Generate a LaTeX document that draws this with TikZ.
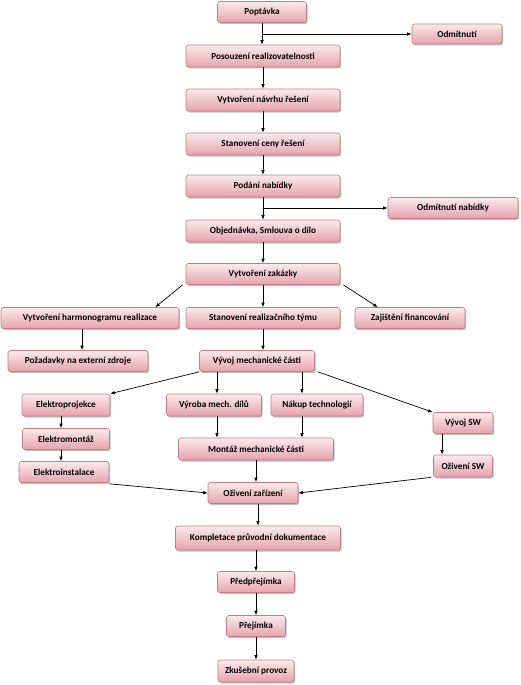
\documentclass[tikz,border=0pt]{standalone}
\usepackage{fontspec}
\setmainfont{Carlito}
\usetikzlibrary{arrows.meta,shadows}
\definecolor{boxtop}{RGB}{250,234,236}
\definecolor{boxbot}{RGB}{229,163,171}
\definecolor{boxline}{RGB}{196,124,133}
\tikzset{
  box/.style={draw=boxline, line width=0.6pt, rounded corners=2.5pt,
    top color=boxtop, bottom color=boxbot, minimum height=21pt,
    inner sep=1pt, font=\fontsize{9.2}{11}\selectfont\bfseries,
    drop shadow={shadow xshift=1.2pt, shadow yshift=-1.5pt, fill=black!50, opacity=0.5}},
  arr/.style={-{Latex[length=4.5pt,width=3.6pt]}, line width=0.7pt, black},
  ln/.style={line width=0.7pt, black}
}
\begin{document}
\begin{tikzpicture}[x=1pt,y=-1pt]
\useasboundingbox (0,0) rectangle (520,685);
\node[box, minimum width=89pt] (pop) at (262,12) {Poptávka};
\node[box, minimum width=90pt, minimum height=20pt] (odm) at (457,34) {Odmítnutí};
\node[box, minimum width=154pt, minimum height=22pt] (pos) at (263,56) {Posouzení realizovatelnosti};
\node[box, minimum width=154pt, minimum height=22pt] (nav) at (263,100) {Vytvoření návrhu řešení};
\node[box, minimum width=154pt, minimum height=22pt] (cen) at (263,144) {Stanovení ceny řešení};
\node[box, minimum width=154pt, minimum height=22pt] (pod) at (263,186) {Podání nabídky};
\node[box, minimum width=130pt] (odn) at (453,208) {Odmítnutí nabídky};
\node[box, minimum width=154pt, minimum height=22pt] (obj) at (263,231) {Objednávka, Smlouva o dílo};
\node[box, minimum width=154pt] (zak) at (263,274) {Vytvoření zakázky};
\node[box, minimum width=178pt] (har) at (90,318) {Vytvoření harmonogramu realizace};
\node[box, minimum width=154pt] (tym) at (263,318) {Stanovení realizačního týmu};
\node[box, minimum width=110pt] (fin) at (410,318) {Zajištění financování};
\node[box, minimum width=140pt] (poz) at (78,361) {Požadavky na externí zdroje};
\node[box, minimum width=115pt] (vmc) at (257,361) {Vývoj mechanické části};
\node[box, minimum width=88pt, minimum height=22pt] (epr) at (66,405) {Elektroprojekce};
\node[box, minimum width=95pt, minimum height=22pt] (vyr) at (214,405) {Výroba mech. dílů};
\node[box, minimum width=92pt, minimum height=22pt] (nak) at (317,405) {Nákup technologií};
\node[box, minimum width=60pt] (vsw) at (463,423) {Vývoj SW};
\node[box, minimum width=87pt] (emo) at (66,439) {Elektromontáž};
\node[box, minimum width=155pt, minimum height=22pt] (mmc) at (256,449) {Montáž mechanické části};
\node[box, minimum width=90pt] (ein) at (64,472) {Elektroinstalace};
\node[box, minimum width=59pt, minimum height=22pt] (osw) at (463,466) {Oživení SW};
\node[box, minimum width=90pt] (ozz) at (253,493) {Oživení zařízení};
\node[box, minimum width=165pt, minimum height=24pt] (kom) at (258,538) {Kompletace průvodní dokumentace};
\node[box, minimum width=77pt] (pre) at (256,582) {Předpřejímka};
\node[box, minimum width=59pt] (prj) at (256,626) {Přejímka};
\node[box, minimum width=76pt, minimum height=22pt] (zku) at (256,671) {Zkušební provoz};

% main chain
\draw[arr] (pop.south) -- (pop.south |- pos.north);
\draw[arr] (pop.south |- odm.west) -- (odm.west);
\draw[arr] (pos.south) -- (nav.north);
\draw[arr] (nav.south) -- (cen.north);
\draw[arr] (cen.south) -- (pod.north);
\draw[arr] (pod.south) -- (obj.north);
\draw[arr] (pod.south |- odn.west) -- (odn.west);
\draw[arr] (obj.south) -- (zak.north);
\draw[arr] ([xshift=-3pt]zak.south west) -- ([xshift=-24pt]har.north east);
\draw[arr] (zak.south) -- (tym.north);
\draw[arr] ([xshift=3pt]zak.south east) -- ([xshift=23pt]fin.north west);
\draw[arr] ([xshift=-8pt]har.south) -- ([xshift=-8pt]har.south |- poz.north);
\draw[arr] (tym.south) -- (tym.south |- vmc.north);
\draw[arr] (vmc.south west) -- (epr.north east);
\draw[arr] ([xshift=3pt]vyr.north |- vmc.south) -- ([xshift=3pt]vyr.north);
\draw[arr] ([xshift=-15pt]nak.north |- vmc.south) -- ([xshift=-15pt]nak.north);
\draw[arr] ([xshift=3pt]vmc.south east) -- (vsw.north west);
\draw[arr] ([xshift=-5pt]epr.south) -- ([xshift=-5pt]epr.south |- emo.north);
\draw[arr] ([xshift=-5pt]emo.south) -- ([xshift=-5pt]emo.south |- ein.north);
\draw[arr] ([xshift=3pt]vyr.south) -- ([xshift=3pt]vyr.south |- mmc.north);
\draw[arr] ([xshift=-15pt]nak.south) -- ([xshift=-15pt]nak.south |- mmc.north);
\draw[arr] ([xshift=-21pt]vsw.south) -- ([xshift=-21pt]vsw.south |- osw.north);
\draw[arr] ([yshift=-1pt]ein.south east) -- (ozz.west);
\draw[arr] (mmc.south) -- (mmc.south |- ozz.north);
\draw[arr] ([xshift=-2pt]osw.south west) -- (ozz.east);
\draw[arr] (ozz.south -| kom.north) -- (kom.north);
\draw[arr] (kom.south -| pre.north) -- (pre.north);
\draw[arr] (pre.south) -- (prj.north);
\draw[arr] (prj.south) -- (zku.north);
\end{tikzpicture}
\end{document}
